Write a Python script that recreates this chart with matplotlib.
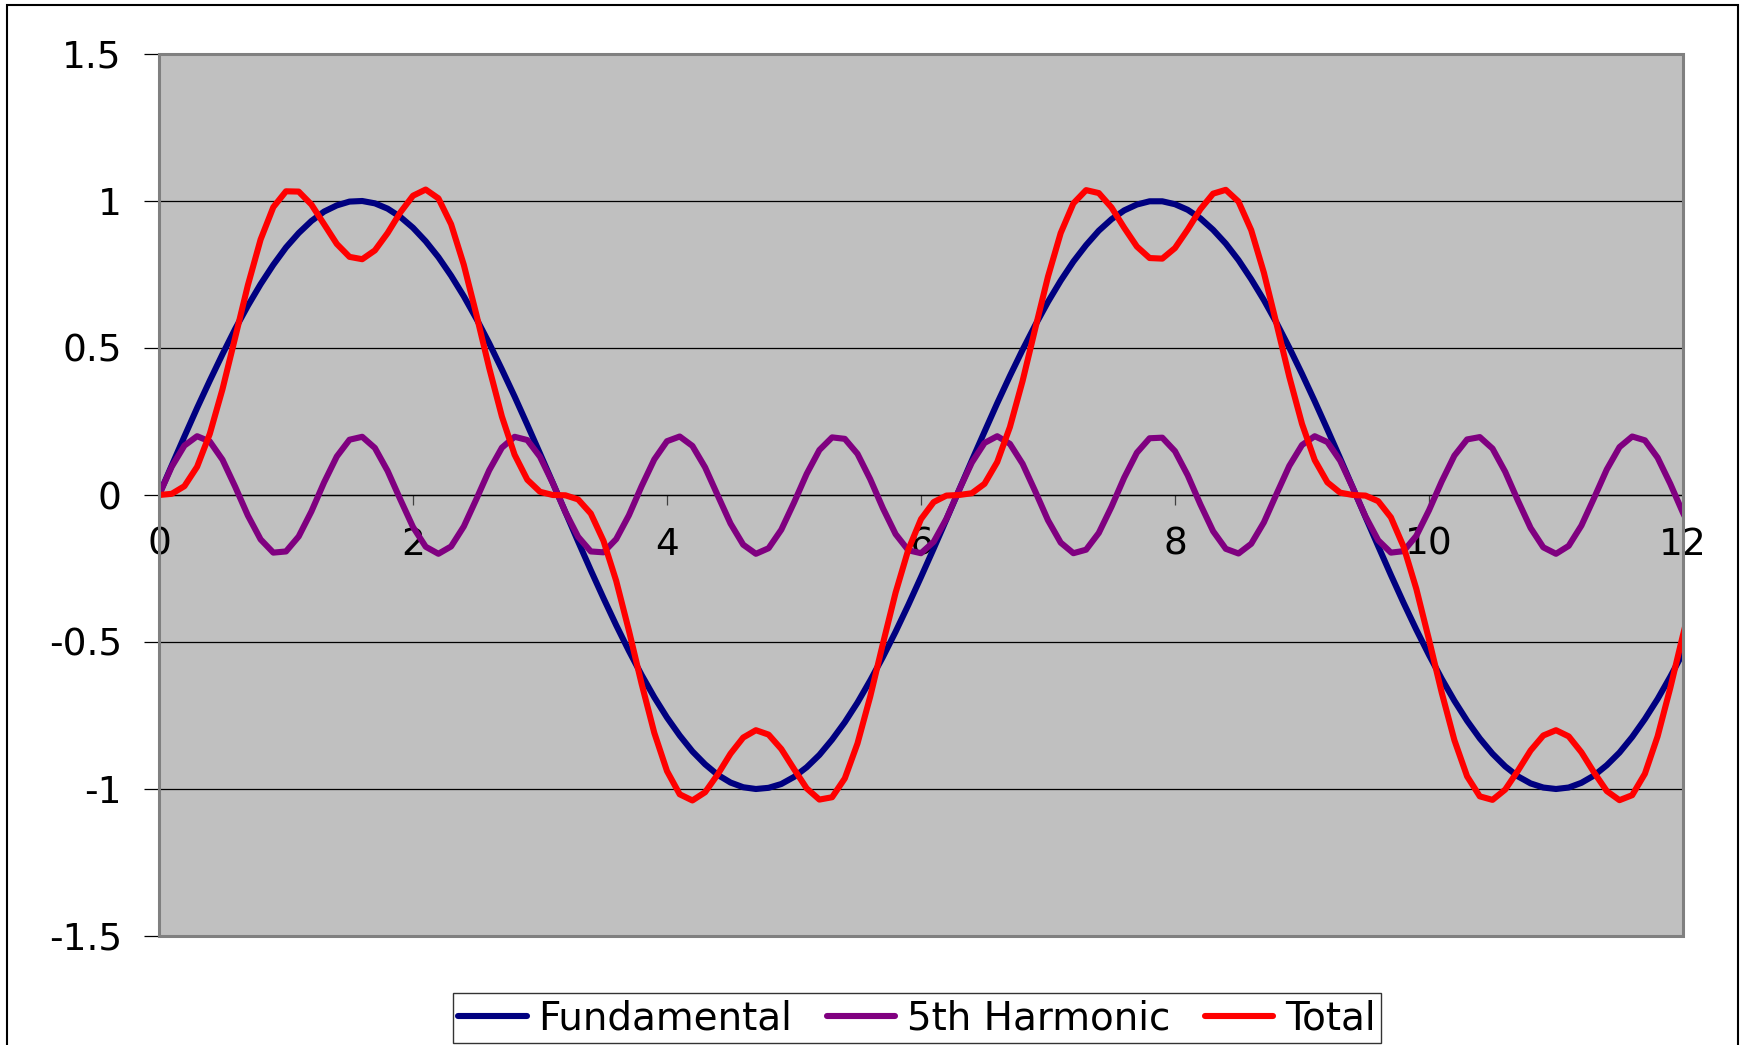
import matplotlib
matplotlib.use('Agg')
import matplotlib.pyplot as plt
from matplotlib.patches import Rectangle

plt.rcParams['font.family'] = ['DejaVu Sans']
plt.rcParams['axes.unicode_minus'] = False

# Sample positions (x) and values
x = [0.0, 0.1, 0.2, 0.3, 0.4, 0.5, 0.6, 0.7, 0.8, 0.9,
     1.0, 1.1, 1.2, 1.3, 1.4, 1.5, 1.6, 1.7, 1.8, 1.9,
     2.0, 2.1, 2.2, 2.3, 2.4, 2.5, 2.6, 2.7, 2.8, 2.9,
     3.0, 3.1, 3.2, 3.3, 3.4, 3.5, 3.6, 3.7, 3.8, 3.9,
     4.0, 4.1, 4.2, 4.3, 4.4, 4.5, 4.6, 4.7, 4.8, 4.9,
     5.0, 5.1, 5.2, 5.3, 5.4, 5.5, 5.6, 5.7, 5.8, 5.9,
     6.0, 6.1, 6.2, 6.3, 6.4, 6.5, 6.6, 6.7, 6.8, 6.9,
     7.0, 7.1, 7.2, 7.3, 7.4, 7.5, 7.6, 7.7, 7.8, 7.9,
     8.0, 8.1, 8.2, 8.3, 8.4, 8.5, 8.6, 8.7, 8.8, 8.9,
     9.0, 9.1, 9.2, 9.3, 9.4, 9.5, 9.6, 9.7, 9.8, 9.9,
     10.0, 10.1, 10.2, 10.3, 10.4, 10.5, 10.6, 10.7, 10.8, 10.9,
     11.0, 11.1, 11.2, 11.3, 11.4, 11.5, 11.6, 11.7, 11.8, 11.9,
     12.0, 12.1]

fundamental = [0.000, 0.100, 0.199, 0.296, 0.389, 0.479, 0.565, 0.644, 0.717, 0.783,
               0.842, 0.891, 0.932, 0.964, 0.985, 0.998, 1.000, 0.992, 0.974, 0.946,
               0.909, 0.863, 0.809, 0.746, 0.676, 0.599, 0.516, 0.427, 0.335, 0.239,
               0.141, 0.042, -0.058, -0.158, -0.256, -0.351, -0.443, -0.530, -0.612, -0.688,
               -0.757, -0.818, -0.872, -0.916, -0.952, -0.978, -0.994, -1.000, -0.996, -0.983,
               -0.959, -0.926, -0.884, -0.832, -0.773, -0.706, -0.631, -0.551, -0.465, -0.374,
               -0.279, -0.182, -0.083, 0.017, 0.117, 0.215, 0.312, 0.405, 0.494, 0.578,
               0.657, 0.729, 0.794, 0.850, 0.899, 0.938, 0.968, 0.988, 0.999, 0.999,
               0.989, 0.970, 0.941, 0.902, 0.855, 0.799, 0.734, 0.663, 0.585, 0.501,
               0.412, 0.319, 0.223, 0.125, 0.025, -0.075, -0.174, -0.272, -0.367, -0.458,
               -0.544, -0.625, -0.700, -0.768, -0.828, -0.880, -0.923, -0.957, -0.981, -0.995,
               -1.000, -0.995, -0.979, -0.954, -0.919, -0.876, -0.823, -0.762, -0.694, -0.618,
               -0.537, -0.450]

harmonic5 = [0.000, 0.096, 0.168, 0.200, 0.182, 0.120, 0.028, -0.070, -0.151, -0.196,
             -0.192, -0.141, -0.056, 0.043, 0.131, 0.188, 0.198, 0.160, 0.082, -0.015,
             -0.109, -0.176, -0.200, -0.175, -0.107, -0.013, 0.084, 0.161, 0.198, 0.187,
             0.130, 0.041, -0.058, -0.142, -0.192, -0.195, -0.150, -0.069, 0.030, 0.121,
             0.183, 0.199, 0.167, 0.094, -0.002, -0.097, -0.169, -0.200, -0.181, -0.118,
             -0.026, 0.072, 0.153, 0.196, 0.191, 0.140, 0.054, -0.045, -0.133, -0.188,
             -0.198, -0.159, -0.081, 0.017, 0.110, 0.177, 0.200, 0.174, 0.106, 0.012,
             -0.086, -0.162, -0.198, -0.186, -0.129, -0.040, 0.059, 0.144, 0.193, 0.195,
             0.149, 0.067, -0.032, -0.123, -0.183, -0.199, -0.166, -0.093, 0.004, 0.099,
             0.170, 0.200, 0.180, 0.117, 0.025, -0.073, -0.154, -0.196, -0.191, -0.139,
             -0.052, 0.046, 0.134, 0.189, 0.197, 0.158, 0.079, -0.019, -0.112, -0.178,
             -0.200, -0.173, -0.104, -0.010, 0.087, 0.163, 0.199, 0.186, 0.127, 0.038,
             -0.061, -0.145]

total = [0.000, 0.004, 0.030, 0.096, 0.208, 0.360, 0.536, 0.714, 0.869, 0.979,
         1.033, 1.032, 0.988, 0.921, 0.854, 0.810, 0.802, 0.832, 0.891, 0.961,
         1.018, 1.039, 1.009, 0.921, 0.783, 0.612, 0.432, 0.267, 0.137, 0.052,
         0.011, 0.000, -0.001, -0.015, -0.063, -0.156, -0.292, -0.461, -0.642, -0.809,
         -0.939, -1.018, -1.039, -1.011, -0.950, -0.880, -0.825, -0.800, -0.815, -0.864,
         -0.932, -0.998, -1.036, -1.028, -0.964, -0.845, -0.686, -0.506, -0.332, -0.186,
         -0.082, -0.024, -0.002, 0.000, 0.006, 0.038, 0.112, 0.231, 0.388, 0.567,
         0.743, 0.891, 0.992, 1.037, 1.027, 0.978, 0.909, 0.845, 0.806, 0.804,
         0.840, 0.903, 0.972, 1.025, 1.038, 0.998, 0.901, 0.756, 0.581, 0.402,
         0.242, 0.119, 0.043, 0.008, 0.000, -0.002, -0.021, -0.076, -0.176, -0.319,
         -0.492, -0.672, -0.834, -0.957, -1.025, -1.037, -1.002, -0.938, -0.869, -0.818,
         -0.800, -0.821, -0.875, -0.944, -1.007, -1.038, -1.021, -0.948, -0.821, -0.656,
         -0.476, -0.305]

series_names = ['Fundamental', '5th Harmonic', 'Total']
series_colors = ['#000080', '#800080', '#FF0000']

y_ticks = [-1.5, -1, -0.5, 0, 0.5, 1, 1.5]
y_tick_labels = ['-1.5', '-1', '-0.5', '0', '0.5', '1', '1.5']
x_ticks = [0, 2, 4, 6, 8, 10, 12]
x_tick_labels = ['0', '2', '4', '6', '8', '10', '12']

W, H = 1747, 1045
fig = plt.figure(figsize=(W / 100, H / 100), dpi=100)
fig.patch.set_facecolor('white')

L, R, T, B = 159, 1683, 54, 936
ax = fig.add_axes([L / W, 1 - B / H, (R - L) / W, (B - T) / H])
ax.set_facecolor('#C0C0C0')

handles = []
for vals, name, col in zip([fundamental, harmonic5, total], series_names, series_colors):
    h, = ax.plot(x, vals, color=col, lw=4.4, label=name, solid_joinstyle='round',
                 solid_capstyle='round', zorder=3)
    handles.append(h)

ax.set_xlim(0, 12)
ax.set_ylim(-1.5, 1.5)

ax.set_yticks(y_ticks)
ax.set_yticklabels(y_tick_labels)
ax.set_xticks(x_ticks)
ax.set_xticklabels(x_tick_labels)

ax.set_axisbelow(True)
ax.yaxis.grid(True, color='black', lw=0.9)
ax.xaxis.grid(False)

for s in ['left', 'right', 'top']:
    ax.spines[s].set_visible(False)
ax.spines['bottom'].set_position(('data', 0))
ax.spines['bottom'].set_color('black')
ax.spines['bottom'].set_linewidth(0.9)

ax.add_patch(Rectangle((0, 0), 1, 1, transform=ax.transAxes, fill=False,
                       ec='#808080', lw=2.2, zorder=4, clip_on=False))

ax.tick_params(axis='y', direction='out', length=10.8, width=0.9, color='black',
               pad=16, labelsize=27)
ax.tick_params(axis='x', direction='out', length=7, width=0.9, color='#404040',
               pad=16, labelsize=27)

# outer chart border
fig.patches.append(Rectangle((7 / W, -0.02), (1738 - 7) / W, 1.02 - 5 / H,
                             transform=fig.transFigure, fill=False, ec='black', lw=1.5))

leg = fig.legend(handles, series_names, loc='lower center',
                 bbox_to_anchor=(917 / W, 2 / H), ncol=3, frameon=True,
                 fancybox=False, edgecolor='black', fontsize=28,
                 handlelength=1.75, handletextpad=0.3, columnspacing=0.9,
                 borderpad=0.15, borderaxespad=0)
leg.get_frame().set_linewidth(1.0)

fig.savefig('out.png', dpi=100, facecolor='white')
